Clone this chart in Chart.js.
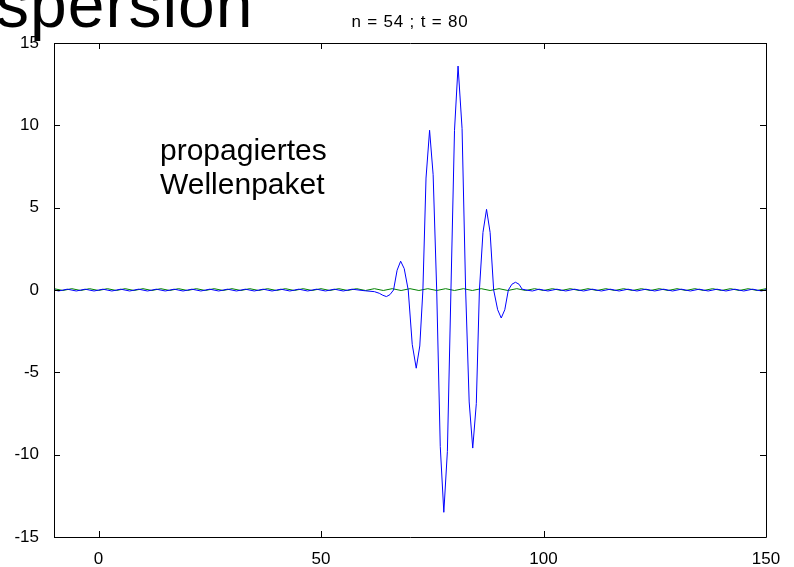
<!DOCTYPE html>
<html>
<head>
<meta charset="utf-8">
<script src="https://cdn.jsdelivr.net/npm/chart.js@4.4.1/dist/chart.umd.min.js"></script>
<style>
  html, body { margin: 0; padding: 0; background: #fff; }
  #wrap { width: 794px; height: 567px; position: relative; }
</style>
</head>
<body>
<div id="wrap"><canvas id="myChart" width="794" height="567"></canvas></div>
<script>
// tick labels
const xTicks = [0, 50, 100, 150];
const yTicks = [-15, -10, -5, 0, 5, 10, 15];

// green reference line (tiny ripple round zero)
const greenX = [-10,-8,-6,-4,-2,0,2,4,6,8,10,12,14,16,18,20,22,24,26,28,30,32,34,36,38,40,
  42,44,46,48,50,52,54,56,58,60,62,64,66,68,70,72,74,76,78,80,82,84,86,88,90,92,94,96,98,
  100,102,104,106,108,110,112,114,116,118,120,122,124,126,128,130,132,134,136,138,140,142,
  144,146,148,150];
const greenY = [0.08,-0.03,0.08,-0.03,0.08,-0.03,0.08,-0.03,0.08,-0.03,0.08,-0.03,0.08,-0.03,
  0.08,-0.03,0.08,-0.03,0.08,-0.03,0.08,-0.03,0.08,-0.03,0.08,-0.03,0.08,-0.03,0.08,-0.03,
  0.08,-0.03,0.08,-0.03,0.08,-0.03,0.08,-0.03,0.08,-0.03,0.08,-0.03,0.08,-0.03,0.08,-0.03,
  0.08,-0.03,0.08,-0.03,0.08,-0.03,0.08,-0.03,0.08,-0.03,0.08,-0.03,0.08,-0.03,0.08,-0.03,
  0.08,-0.03,0.08,-0.03,0.08,-0.03,0.08,-0.03,0.08,-0.03,0.08,-0.03,0.08,-0.03,0.08,-0.03,
  0.08,-0.03,0.08];

// blue: propagated wave packet
const blueX = [-10,-9,-7,-5,-3,-1,1,3,5,7,9,11,13,15,17,19,21,23,25,27,29,31,33,35,37,39,41,
  43,45,47,49,51,53,55,57,59,
  60,62,63.1,63.9,64.7,65.5,66.3,67.1,67.9,68.7,69.6,70.5,71.4,72.2,72.9,73.6,74.4,75.2,
  76.0,76.8,77.6,78.4,79.2,80.0,80.8,81.7,82.5,83.3,84.1,84.9,85.6,86.4,87.2,88.0,88.8,
  89.7,90.5,91.3,92.1,92.9,93.7,94.5,95.2,96.5,
  97.5,99,101,103,105,107,109,111,113,115,117,119,121,123,125,127,129,131,133,135,137,139,
  141,143,145,147,149,150];
const blueY = [0.02,-0.06,0.05,-0.06,0.05,-0.06,0.05,-0.06,0.05,-0.06,0.05,-0.06,0.05,-0.06,
  0.05,-0.06,0.05,-0.06,0.05,-0.06,0.05,-0.06,0.05,-0.06,0.05,-0.06,0.05,-0.06,0.05,-0.06,
  0.05,-0.06,0.05,-0.06,0.05,-0.02,
  -0.05,-0.1,-0.2,-0.32,-0.4,-0.28,0.0,1.2,1.75,1.3,0.0,-3.3,-4.75,-3.4,0.0,6.8,9.7,7.0,
  0.0,-9.5,-13.5,-9.8,0.0,9.7,13.6,9.8,0.0,-6.8,-9.6,-6.9,0.0,3.5,4.9,3.5,0.0,
  -1.2,-1.7,-1.2,0.0,0.35,0.47,0.35,0.05,-0.02,
  -0.06,0.05,-0.06,0.05,-0.06,0.05,-0.06,0.05,-0.06,0.05,-0.06,0.05,-0.06,0.05,-0.06,0.05,
  -0.06,0.05,-0.06,0.05,-0.06,0.05,-0.06,0.05,-0.06,0.05,-0.06,0.02];

const zip = (xs, ys) => xs.map((x, i) => ({ x: x, y: ys[i] }));

// box + inward ticks + texts, matlab style
const matlabFrame = {
    id: 'matlabFrame',
    afterDraw(chart) {
        const c = chart.ctx;
        const a = chart.chartArea;
        const sx = chart.scales.x, sy = chart.scales.y;
        c.save();
        c.strokeStyle = '#000';
        c.lineWidth = 1;
        c.beginPath();
        c.rect(Math.round(a.left) + 0.5, Math.round(a.top) + 0.5,
            Math.round(a.right - a.left), Math.round(a.bottom - a.top));
        xTicks.forEach(t => {
            const px = Math.round(sx.getPixelForValue(t)) + 0.5;
            c.moveTo(px, a.top); c.lineTo(px, a.top + 6);
            c.moveTo(px, a.bottom); c.lineTo(px, a.bottom - 6);
        });
        yTicks.forEach(t => {
            const py = Math.round(sy.getPixelForValue(t)) + 0.5;
            c.moveTo(a.left, py); c.lineTo(a.left + 6, py);
            c.moveTo(a.right, py); c.lineTo(a.right - 6, py);
        });
        c.stroke();

        c.fillStyle = '#000';
        c.textBaseline = 'alphabetic';
        c.textAlign = 'center';
        c.font = '17px "Liberation Sans", Arial, sans-serif';
        c.letterSpacing = '0.8px';
        c.fillText('n = 54 ; t = 80', (a.left + a.right) / 2, 27);
        c.letterSpacing = '0px';

        c.textAlign = 'left';
        c.font = '30px "Liberation Sans", Arial, sans-serif';
        c.fillText('propagiertes', 160, 160);
        c.fillText('Wellenpaket', 160, 194);

        c.font = '66px "Liberation Sans", Arial, sans-serif';
        c.letterSpacing = '1px';
        c.fillText('spersion', -4, 27);
        c.letterSpacing = '0px';
        c.restore();
    }
};

const ctx = document.getElementById('myChart');

new Chart(ctx, {
    type: 'line',
    data: {
        datasets: [{
            label: 'Wellenpaket',
            data: zip(blueX, blueY),
            borderColor: 'rgb(0,0,255)',
            borderWidth: 1,
            pointRadius: 0,
            tension: 0,
            order: 1
        }, {
            label: 'Referenz',
            data: zip(greenX, greenY),
            borderColor: 'rgb(0,128,0)',
            borderWidth: 1,
            pointRadius: 0,
            tension: 0,
            order: 2
        }]
    },
    options: {
        responsive: false,
        animation: false,
        layout: { padding: { top: 43, right: 28, left: 0, bottom: 0 } },
        plugins: {
            legend: { display: false },
            tooltip: { enabled: false }
        },
        scales: {
            x: {
                type: 'linear',
                min: -10,
                max: 150,
                afterBuildTicks: s => { s.ticks = xTicks.map(v => ({ value: v })); },
                afterFit: s => { s.height = 30; },
                grid: { display: false },
                border: { display: false },
                ticks: {
                    color: '#000',
                    padding: 4,
                    maxRotation: 0,
                    font: { family: '"Liberation Sans", Arial, sans-serif', size: 17 }
                }
            },
            y: {
                type: 'linear',
                min: -15,
                max: 15,
                afterBuildTicks: s => { s.ticks = yTicks.map(v => ({ value: v })); },
                afterFit: s => { s.width = 54; },
                grid: { display: false },
                border: { display: false },
                ticks: {
                    color: '#000',
                    padding: 7,
                    font: { family: '"Liberation Sans", Arial, sans-serif', size: 17 }
                }
            }
        }
    },
    plugins: [matlabFrame]
});
</script>
</body>
</html>
